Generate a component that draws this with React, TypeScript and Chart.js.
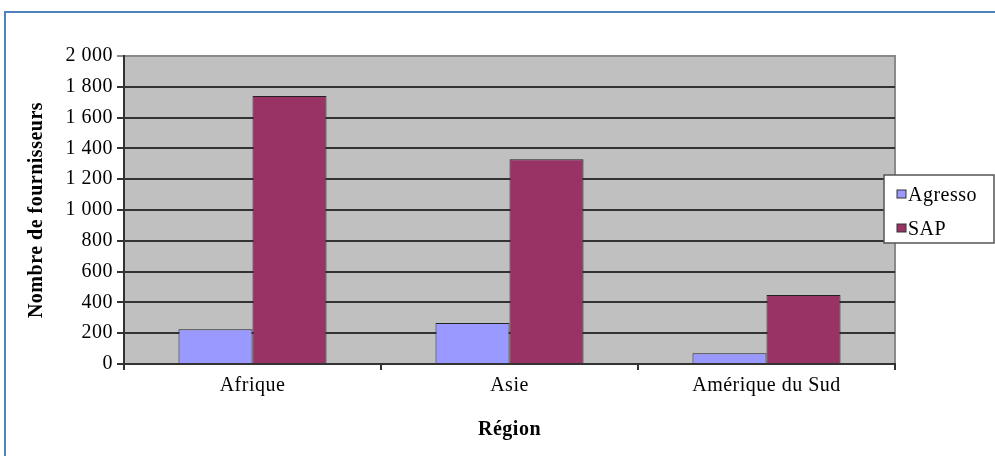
import React, { useEffect, useRef } from "react";
import { Chart, registerables } from "chart.js";

Chart.register(...registerables);

const categories = ["Afrique", "Asie", "Amérique du Sud"];
const seriesNames = ["Agresso", "SAP"];
const agressoValues = [225, 267, 69];
const sapValues = [1740, 1329, 448];
const yTicksMax = 2000;
const yTickStep = 200;
const yTitle = "Nombre de fournisseurs";
const xTitle = "Région";

const SERIF = '"Liberation Serif", "Times New Roman", serif';

const fmt = (v: number) => String(v).replace(/\B(?=(\d{3})+(?!\d))/g, " ");

const spacing = {
  id: "spacing",
  beforeInit(chart: any) {
    chart.ctx.letterSpacing = "0.5px";
  },
  beforeUpdate(chart: any) {
    chart.ctx.letterSpacing = "0.5px";
  },
};

const plotBg = {
  id: "plotBg",
  beforeDraw(chart: any) {
    const { ctx, chartArea: a } = chart;
    ctx.save();
    ctx.fillStyle = "#C0C0C0";
    ctx.fillRect(a.left, a.top, a.right - a.left, a.bottom - a.top);
    ctx.strokeStyle = "#8a8a8a";
    ctx.lineWidth = 2;
    ctx.strokeRect(a.left, a.top, a.right - a.left, a.bottom - a.top);
    ctx.restore();
  },
};

const boxLegend = {
  id: "boxLegend",
  afterDraw(chart: any) {
    const { ctx } = chart;
    const x = 884, y = 175, w = 110, h = 68;
    ctx.save();
    ctx.fillStyle = "#fff";
    ctx.fillRect(x, y, w, h);
    ctx.strokeStyle = "#555";
    ctx.lineWidth = 1.5;
    ctx.strokeRect(x, y, w, h);
    ctx.font = `20px ${SERIF}`;
    ctx.textBaseline = "alphabetic";
    ctx.textAlign = "left";
    chart.data.datasets.forEach((ds: any, i: number) => {
      const by = 201 + i * 34;
      ctx.fillStyle = ds.backgroundColor;
      ctx.fillRect(897, by - 11, 9, 8);
      ctx.strokeStyle = "#333";
      ctx.lineWidth = 1;
      ctx.strokeRect(897, by - 11, 9, 8);
      ctx.fillStyle = "#000";
      ctx.fillText(ds.label, 908, by);
    });
    ctx.restore();
  },
};

export default function App() {
  const ref = useRef<HTMLCanvasElement>(null);
  useEffect(() => {
    if (!ref.current) return;
    const chart = new Chart(ref.current, {
      type: "bar",
      data: {
        labels: categories,
        datasets: [
          {
            label: seriesNames[0],
            data: agressoValues,
            backgroundColor: "#9999FF",
            borderColor: "#222",
            borderWidth: 1,
          },
          {
            label: seriesNames[1],
            data: sapValues,
            backgroundColor: "#993366",
            borderColor: "#222",
            borderWidth: 1,
          },
        ],
      },
      plugins: [spacing, plotBg, boxLegend],
      options: {
        animation: false,
        responsive: false,
        devicePixelRatio: 1,
        categoryPercentage: 0.576,
        barPercentage: 1,
        layout: { padding: { top: 56, right: 100, left: 0, bottom: 0 } },
        plugins: { legend: { display: false }, tooltip: { enabled: false } },
        scales: {
          x: {
            afterFit: (s: any) => {
              s.height = 92;
            },
            grid: {
              offset: true,
              drawOnChartArea: false,
              drawTicks: true,
              tickLength: 6,
              color: "#333",
              lineWidth: 2,
            },
            border: { display: true, color: "#333", width: 2 },
            ticks: {
              font: { family: SERIF, size: 20 },
              color: "#000",
              padding: 4,
              maxRotation: 0,
            },
            title: {
              display: true,
              text: xTitle,
              font: { family: SERIF, size: 20, weight: "bold" },
              color: "#000",
              padding: { top: 0, bottom: 14 },
            },
          },
          y: {
            min: 0,
            max: yTicksMax,
            afterFit: (s: any) => {
              s.width = 124;
            },
            grid: {
              color: (c: any) => (c.tick && c.tick.value === yTicksMax ? "#8a8a8a" : "#333"),
              lineWidth: 2,
              tickLength: 7,
            },
            border: { display: true, color: "#333", width: 2 },
            ticks: {
              stepSize: yTickStep,
              font: { family: SERIF, size: 20 },
              color: "#000",
              padding: 4,
              callback: (v: any) => fmt(Number(v)),
            },
            title: {
              display: true,
              text: yTitle,
              font: { family: SERIF, size: 20, weight: "bold" },
              color: "#000",
              padding: { top: 25, bottom: 0 },
            },
          },
        },
      },
    } as any);
    return () => chart.destroy();
  }, []);

  return (
    <div
      style={{
        position: "fixed",
        left: 0,
        top: 0,
        width: 995,
        height: 456,
        background: "#fff",
        overflow: "hidden",
      }}
    >
      <div
        style={{
          position: "absolute",
          left: 4,
          top: 11,
          width: 1100,
          height: 600,
          border: "2px solid #4F81BD",
        }}
      />
      <canvas
        ref={ref}
        width={995}
        height={456}
        style={{ position: "absolute", left: 0, top: 0, width: 995, height: 456 }}
      />
    </div>
  );
}
